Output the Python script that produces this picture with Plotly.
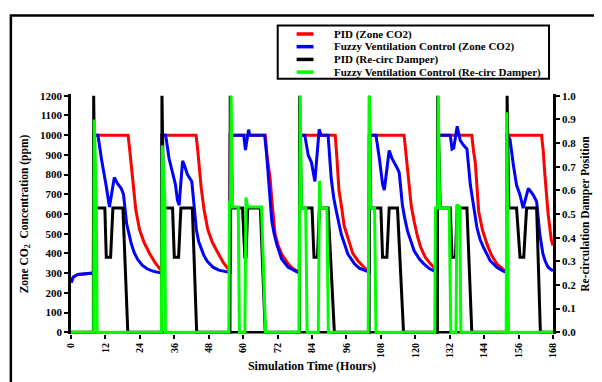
import plotly.graph_objects as go

# ---------------- data ----------------
# PID zone CO2 (ppm)
pid_co2_t = [0, 0.8, 2.4, 5.0, 7.8, 7.9,
             19.9, 20.5, 21.1, 21.7, 22.6, 23.9, 25.5, 27.4, 29.2, 30.8, 31.6, 31.7,
             43.6, 44.2, 44.8, 45.4, 46.4, 47.7, 49.3, 51.2, 53.0, 54.6, 55.4, 55.5,
             67.7, 68.3, 69.4, 70.2, 71.1, 72.2, 73.4, 75.7, 77.2, 78.6, 79.6, 79.7,
             92.1, 92.7, 93.4, 94.2, 95.2, 96.5, 98.2, 100.0, 102.8, 103.9, 104.0,
             116.1, 116.8, 117.8, 118.6, 119.6, 120.7, 121.9, 123.5, 125.3, 127.0, 127.7, 127.8,
             139.7, 140.3, 140.9, 142.1, 143.4, 145.0, 146.6, 148.4, 150.0, 151.3, 151.9, 152.0,
             164.0, 164.6, 165.1, 165.7, 166.3, 167.4, 168.0]
pid_co2_v = [252, 280, 293, 298, 300, 1000,
             1000, 920, 830, 730, 620, 520, 455, 400, 355, 325, 312, 1000,
             1000, 920, 830, 730, 620, 520, 455, 400, 355, 325, 314, 1000,
             1000, 900, 780, 640, 500, 440, 397, 347, 325, 313, 308, 1000,
             1000, 880, 720, 647, 540, 480, 400, 363, 320, 310, 1000,
             1000, 900, 730, 640, 563, 490, 430, 380, 347, 318, 310, 1000,
             1000, 920, 863, 613, 520, 447, 390, 347, 325, 311, 305, 1000,
             1000, 920, 813, 700, 600, 470, 440]

# Fuzzy ventilation control zone CO2 (ppm)
fuzzy_co2_t = [0, 0.8, 2.4, 5.0, 7.8, 7.9,
               9.4, 10.6, 11.5, 12.3, 13.4, 14.2, 15.1, 16.2, 17.5, 18.3, 18.8, 19.4,
               20.2, 21.0, 22.0, 23.2, 24.8, 26.5, 28.5, 31.6, 31.7,
               33.0, 34.2, 35.4, 36.4, 37.1, 37.7, 38.3, 38.9, 39.6, 40.6, 42.1, 42.9,
               43.7, 44.5, 45.2, 46.3, 47.5, 49.5, 51.5, 55.4, 55.5,
               60.2, 60.8, 61.2, 61.9, 62.3, 67.5, 68.2, 68.8, 70.0, 70.8, 71.7, 73.4,
               75.7, 78.6, 79.6, 79.7,
               81.5, 82.7, 83.8, 85.0, 85.8, 86.5, 87.2, 89.6, 90.7, 91.6, 92.5, 94.2,
               96.5, 98.8, 100.5, 102.3, 103.9, 104.0,
               106.3, 107.5, 108.6, 109.2, 110.0, 110.9, 111.8, 112.7, 113.8, 114.4,
               115.5, 116.3, 117.3, 119.6, 121.5, 123.0, 125.0, 127.1, 127.7, 127.8,
               132.2, 132.8, 133.4, 134.6, 135.7, 136.9, 138.0, 139.2, 140.3, 141.5,
               142.6, 143.8, 146.1, 148.4, 150.7, 151.9, 152.0,
               153.0, 154.2, 155.3, 156.5, 157.6, 158.5, 159.4, 161.1, 162.3, 163.4,
               164.5, 165.3, 166.3, 167.4, 168.0]
fuzzy_co2_v = [252, 280, 293, 298, 300, 1000,
               1000, 880, 810, 740, 635, 700, 785, 755, 730, 700, 640, 550,
               500, 450, 405, 370, 340, 322, 310, 300, 1000,
               1000, 880, 810, 750, 670, 645, 760, 870, 845, 800, 765, 650,
               520, 460, 430, 390, 360, 330, 315, 303, 1000,
               1000, 925, 960, 1028, 1000, 1000, 900, 780, 563, 500, 447, 372,
               330, 308, 302, 1000,
               1000, 897, 863, 765, 900, 1030, 1000, 1000, 780, 680, 613, 497,
               397, 347, 325, 313, 305, 1000,
               1000, 880, 750, 722, 820, 922, 885, 863, 830, 810,
               647, 580, 513, 413, 370, 347, 322, 308, 303, 1000,
               1000, 930, 935, 1045, 972, 947, 930, 747, 647, 530,
               470, 430, 363, 330, 310, 303, 1000,
               980, 847, 747, 697, 630, 680, 730, 697, 663, 497,
               397, 360, 330, 317, 312]

# PID re-circulation damper position (0-1)
pid_damper_t = [0, 7.8, 7.9, 8.4, 11.8, 12.3, 13.8, 14.6, 18.1, 19.8,
                31.6, 31.7, 32.3, 35.4, 36.0, 37.5, 38.3, 42.3, 43.8,
                55.4, 55.5, 56.3, 59.8, 60.6, 61.0, 61.6, 66.0, 67.7,
                79.6, 79.7, 80.3, 84.0, 84.7, 85.9, 86.6, 89.6, 91.8,
                103.9, 104.0, 104.5, 108.0, 108.6, 110.1, 110.9, 113.8, 115.9,
                127.7, 127.8, 128.7, 132.2, 132.8, 134.0, 134.6, 138.0, 139.7,
                151.9, 152.0, 152.6, 155.3, 156.5, 157.8, 158.8, 162.3, 163.6, 168.0]
pid_damper_v = [0, 0, 1.0, 0.525, 0.525, 0.317, 0.317, 0.525, 0.525, 0,
                0, 1.0, 0.525, 0.525, 0.317, 0.317, 0.525, 0.525, 0,
                0, 1.0, 0.525, 0.525, 0.317, 0.317, 0.525, 0.525, 0,
                0, 1.0, 0.525, 0.525, 0.317, 0.317, 0.525, 0.525, 0,
                0, 1.0, 0.525, 0.525, 0.317, 0.317, 0.525, 0.525, 0,
                0, 1.0, 0.525, 0.525, 0.317, 0.317, 0.525, 0.525, 0,
                0, 1.0, 0.525, 0.525, 0.317, 0.317, 0.525, 0.525, 0, 0]

# Fuzzy ventilation control re-circulation damper position (0-1)
fuzzy_damper_t = [0, 7.9, 8.1, 8.8, 9.1,
                  31.5, 31.8, 32.7, 32.9,
                  55.0, 55.2, 55.6, 55.8, 56.3, 58.3, 58.7, 60.6, 61.0, 61.5, 66.4, 67.8,
                  79.5, 79.9, 80.3, 81.8, 82.3, 86.2, 86.6, 87.0, 89.2, 89.7,
                  103.6, 103.8, 104.0, 104.4, 105.8, 106.3,
                  126.8, 127.0, 127.8, 128.0, 128.5, 131.8, 132.4, 134.2, 134.5, 135.5, 135.9,
                  151.7, 151.9, 152.5, 168.0]
fuzzy_damper_v = [0, 0, 0.9, 0.57, 0,
                  0, 0.79, 0.57, 0,
                  0, 0.55, 0.55, 1.0, 0.53, 0.53, 0, 0, 0.57, 0.53, 0.53, 0,
                  0, 1.0, 0.525, 0.525, 0, 0, 0.64, 0.525, 0.525, 0,
                  0, 0.525, 1.0, 0.525, 0.525, 0,
                  0, 0.525, 0.525, 1.0, 0.525, 0.525, 0, 0, 0.54, 0.53, 0,
                  0, 0.93, 0, 0]

series_names = ["PID (Zone CO2)",
                "Fuzzy Ventilation Control (Zone CO2)",
                "PID (Re-circ Damper)",
                "Fuzzy Ventilation Control (Re-circ Damper)"]
series_colors = ["#FF0000", "#0000FF", "#000000", "#00FF00"]

x_tickvals = [0, 12, 24, 36, 48, 60, 72, 84, 96, 108, 120, 132, 144, 156, 168]
y_tickvals = [0, 100, 200, 300, 400, 500, 600, 700, 800, 900, 1000, 1100, 1200]
y2_tickvals = [0.0, 0.1, 0.2, 0.3, 0.4, 0.5, 0.6, 0.7, 0.8, 0.9, 1.0]

# ---------------- figure ----------------
# The page has an 8px body margin, so the figure is placed 8px in from the
# top-left corner of the window; reference pixel positions are shifted by it.
OFF = 8
W, H = 602 - OFF, 382 - OFF
ML, MR, MT, MB = 71 - OFF, 46, 94 - OFF, 44 - OFF
PW, PH = W - ML - MR, H - MT - MB

def px(x):
    return (x - OFF - ML) / PW

def py(y):
    return (H - MB - (y - OFF)) / PH

FONT = "Liberation Serif"

fig = go.Figure()
data = [(pid_co2_t, pid_co2_v, "y"), (fuzzy_co2_t, fuzzy_co2_v, "y"),
        (pid_damper_t, pid_damper_v, "y2"), (fuzzy_damper_t, fuzzy_damper_v, "y2")]
for (t, v, ax), name, col in zip(data, series_names, series_colors):
    fig.add_trace(go.Scatter(x=t, y=v, yaxis=ax, mode="lines", name=name,
                             line=dict(color=col, width=3), showlegend=False))

tickfont = dict(family=FONT, size=11, color="black", weight="bold")
titlefont = dict(family=FONT, size=12, color="black", weight="bold")

shapes = [
    # outer frame
    dict(type="rect", xref="paper", yref="paper", x0=px(10.5), x1=px(640), y0=py(420), y1=py(11.5),
         line=dict(color="black", width=2.5), layer="below"),
    # base line at zero
    dict(type="line", xref="x", yref="y", x0=0, x1=168, y0=0, y1=0,
         line=dict(color="black", width=2.5), layer="below"),
    # legend box
    dict(type="rect", xref="paper", yref="paper", x0=px(279), x1=px(552), y0=py(78), y1=py(22),
         line=dict(color="black", width=2), fillcolor="white", layer="above"),
]
annotations = []
rows_y = [31, 44.3, 57.7, 71]
for name, col, ry in zip(series_names, series_colors, rows_y):
    shapes.append(dict(type="line", xref="paper", yref="paper", x0=px(298), x1=px(315),
                       y0=py(ry), y1=py(ry), line=dict(color=col, width=3.5), layer="above"))
    annotations.append(dict(xref="paper", yref="paper", x=px(334), y=py(ry), text=name,
                            showarrow=False, xanchor="left", yanchor="middle",
                            font=dict(family=FONT, size=11, color="black", weight="bold")))

fig.update_layout(
    width=W, height=H,
    margin=dict(l=ML, r=MR, t=MT, b=MB, pad=0),
    paper_bgcolor="white", plot_bgcolor="white",
    showlegend=False,
    shapes=shapes, annotations=annotations,
    xaxis=dict(range=[0, 168], tickvals=x_tickvals, tickangle=-90, ticks="outside",
               ticklen=4, tickwidth=2, tickcolor="black", showline=False, showgrid=False,
               zeroline=False, tickfont=dict(family=FONT, size=10, color="black", weight="bold"),
               title=dict(text="Simulation Time (Hours)", font=titlefont, standoff=4)),
    yaxis=dict(range=[-9, 1209], tickvals=y_tickvals, ticks="outside", ticklen=4, tickwidth=2,
               tickcolor="black", showline=True, linewidth=2.5, linecolor="black",
               showgrid=False, zeroline=False, tickfont=tickfont,
               title=dict(text="Zone CO<sub>2</sub>  Concentration (ppm)",
                          font=dict(family=FONT, size=11.5, color="black", weight="bold"),
                          standoff=10)),
    yaxis2=dict(range=[-0.0075, 1.0075], tickvals=y2_tickvals, tickformat=".1f",
                overlaying="y", side="right", ticks="outside", ticklen=4, tickwidth=2,
                tickcolor="black", showline=True, linewidth=2.5, linecolor="black",
                showgrid=False, zeroline=False, tickfont=tickfont,
                title=dict(text="Re-circulation Damper Position",
                           font=dict(family=FONT, size=11.5, color="black", weight="bold"),
                           standoff=6)),
)

fig.write_html("out.html")
